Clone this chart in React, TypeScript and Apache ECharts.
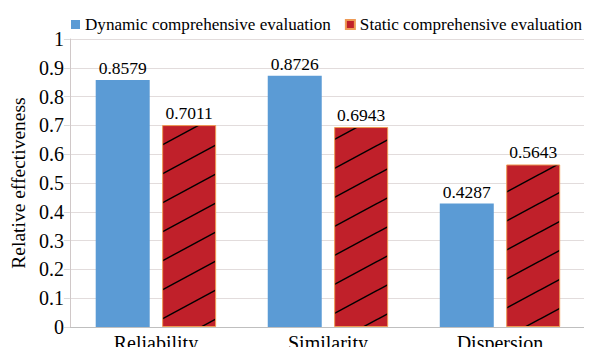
import React, { useEffect, useRef } from "react";
import * as echarts from "echarts";

const categories = ["Reliability", "Similarity", "Dispersion"];
const dynamicValues = [0.8579, 0.8726, 0.4287];
const staticValues = [0.7011, 0.6943, 0.5643];
const seriesNames = ["Dynamic comprehensive evaluation", "Static comprehensive evaluation"];

function makeHatch(): HTMLCanvasElement {
  const w = 54;
  const h = 29;
  const c = document.createElement("canvas");
  c.width = w;
  c.height = h;
  const ctx = c.getContext("2d")!;
  ctx.fillStyle = "#C0202A";
  ctx.fillRect(0, 0, w, h);
  ctx.strokeStyle = "#000000";
  ctx.lineWidth = 1.5;
  for (let k = -1; k <= 1; k++) {
    ctx.beginPath();
    ctx.moveTo(0, h + k * h);
    ctx.lineTo(w, k * h);
    ctx.stroke();
  }
  return c;
}

const FONT = "Liberation Serif";

export default function App() {
  const ref = useRef<HTMLDivElement>(null);
  useEffect(() => {
    const chart = echarts.init(ref.current!, undefined, { renderer: "svg" });
    const hatch = makeHatch();
    const labelCfg = {
      show: true,
      position: "top",
      distance: 3,
      fontFamily: FONT,
      fontSize: 17.5,
      color: "#000",
      formatter: (p: any) => p.value.toFixed(4),
    };
    chart.setOption({
      animation: false,
      textStyle: { fontFamily: FONT },
      legend: {
        top: 11,
        left: 66,
        itemWidth: 9,
        itemHeight: 9,
        itemGap: 14,
        icon: "rect",
        textStyle: { fontFamily: FONT, fontSize: 17.1, color: "#000" },
        data: [{ name: seriesNames[0] }, { name: seriesNames[1] }],
      },
      grid: { left: 66, right: 6, top: 39, bottom: 28 },
      xAxis: {
        type: "category",
        data: categories,
        axisLine: { lineStyle: { color: "#BFBFBF" } },
        axisTick: { show: false },
        axisLabel: { fontFamily: FONT, fontSize: 20, color: "#000", margin: 6 },
      },
      yAxis: {
        type: "value",
        min: 0,
        max: 1,
        interval: 0.1,
        name: "Relative effectiveness",
        nameLocation: "middle",
        nameGap: 41,
        nameTextStyle: { fontFamily: FONT, fontSize: 19.5, color: "#000" },
        axisLine: { show: true, lineStyle: { color: "#D0C8C8" } },
        axisTick: { show: true, length: 6, lineStyle: { color: "#D9D9D9" } },
        axisLabel: {
          fontFamily: FONT,
          fontSize: 20,
          color: "#000",
          margin: 6,
          formatter: (v: number) => String(+v.toFixed(1)),
        },
        splitLine: { lineStyle: { color: "#E2DCDC" } },
      },
      series: [
        {
          name: seriesNames[0],
          type: "bar",
          data: dynamicValues,
          barWidth: 54,
          barGap: "23%",
          itemStyle: { color: "#5B9BD5" },
          label: labelCfg,
        },
        {
          name: seriesNames[1],
          type: "bar",
          data: staticValues,
          barWidth: 54,
          itemStyle: {
            color: { image: hatch, repeat: "repeat" },
            borderColor: "#EE9A55",
            borderWidth: 1,
          },
          label: labelCfg,
        },
      ],
    });
    return () => chart.dispose();
  }, []);
  return <div ref={ref} style={{ width: 592, height: 355, margin: -8 }} />;
}
